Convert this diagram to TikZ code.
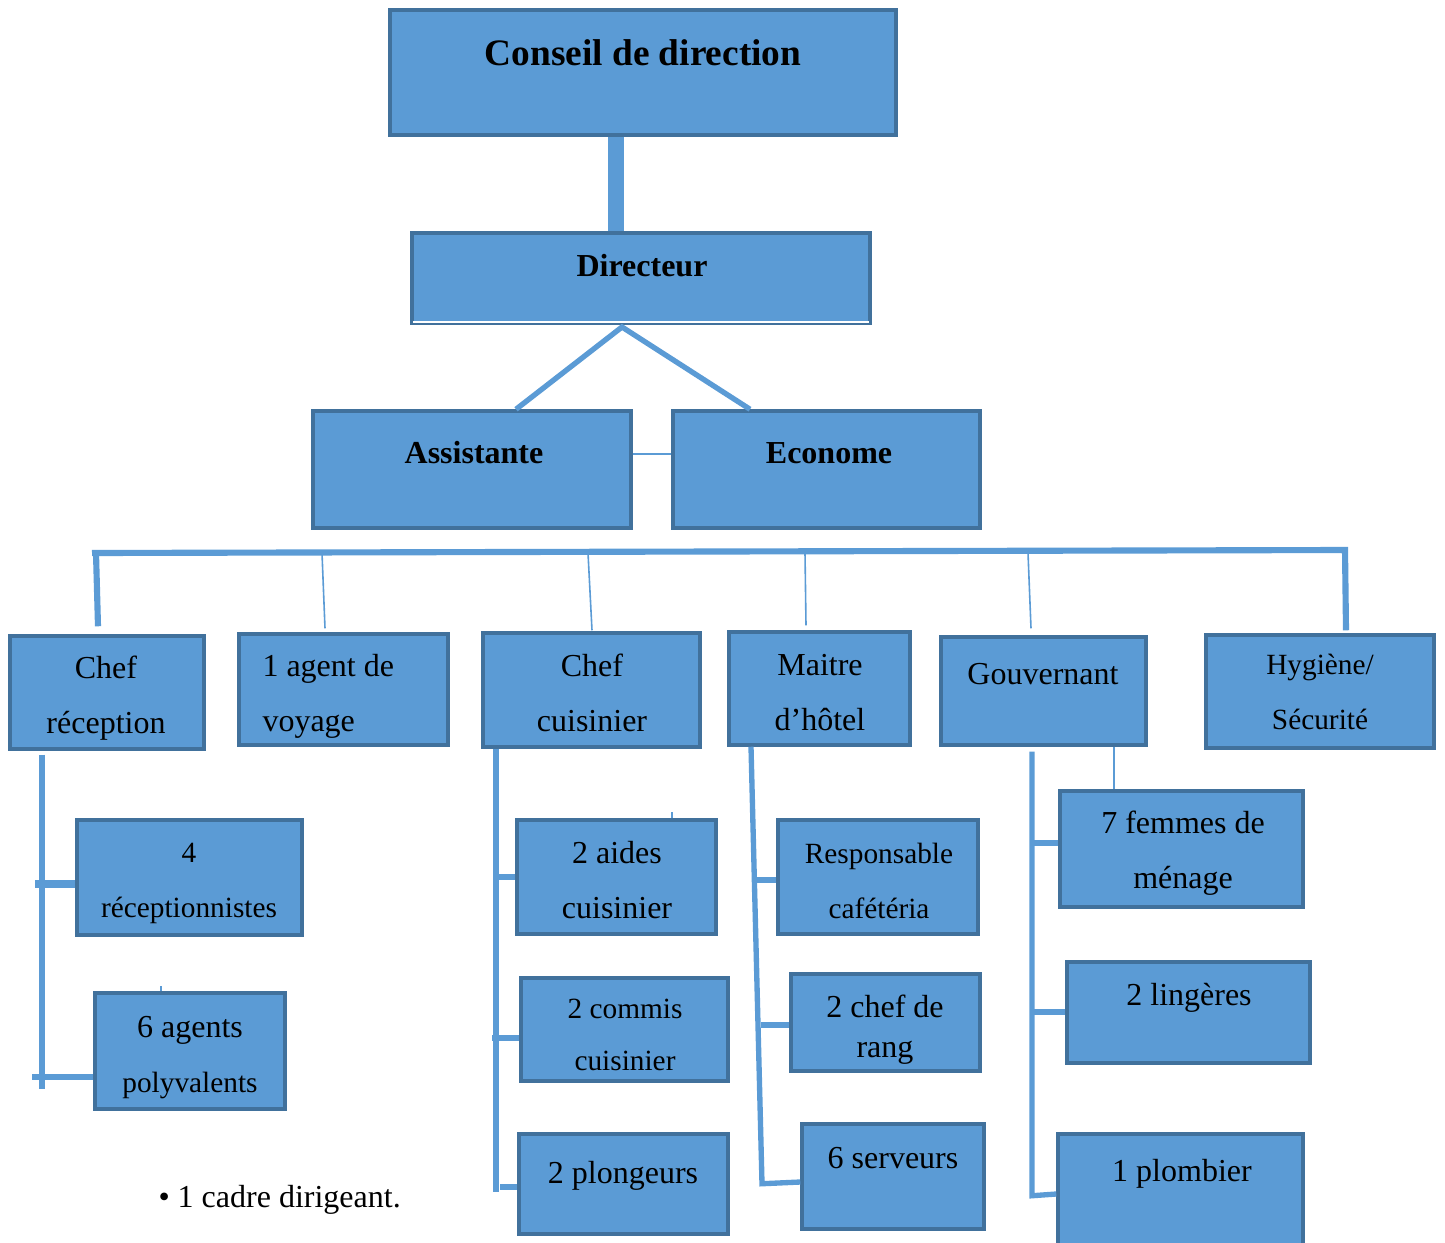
\documentclass[tikz,border=0pt]{standalone}
\usepackage{fontspec}
\setmainfont{Liberation Serif}
\usetikzlibrary{fit,calc}
\definecolor{boxfill}{HTML}{5B9BD5}
\definecolor{boxline}{HTML}{41719C}

\begin{document}
\begin{tikzpicture}[x=0.375pt, y=-0.375pt,
  box/.style = {draw=boxline, fill=boxfill, line width=1.3pt, inner sep=0pt},
  txt/.style = {align=center, anchor=base, inner sep=0pt, font=\fontsize{12}{20.5}\selectfont},
  sml/.style = {font=\fontsize{11}{20.6}\selectfont},
  bold/.style = {font=\fontsize{12}{14}\selectfont\bfseries},
  link/.style = {draw=boxfill, line width=2pt},
  thin/.style = {draw=boxfill, line width=0.6pt}]
\useasboundingbox (0,0) rectangle (1445,1242);

% top of the chart
\node[box, fit={(390,10) (896,135)}] (conseil) {};
\node[box, fit={(412,233) (870,323)}] (dir) {};
\node[box, fit={(313,411) (631,528)}] (assist) {};
\node[box, fit={(673,411) (980,528)}] (econ) {};

% services
\node[box, fit={(10,636) (204,749)}] (chefrec) {};
\node[box, fit={(239,634) (448,745)}] (agent) {};
\node[box, fit={(483,633) (700,747)}] (chefcuis) {};
\node[box, fit={(729,632) (910,745)}] (maitre) {};
\node[box, fit={(941,637) (1146,745)}] (gouv) {};
\node[box, fit={(1206,635) (1434,748)}] (hyg) {};

% staff
\node[box, fit={(77,820) (302,935)}] (recep) {};
\node[box, fit={(95,993) (285,1109)}] (polyv) {};
\node[box, fit={(517,820) (716,934)}] (aides) {};
\node[box, fit={(521,978) (728,1081)}] (commis) {};
\node[box, fit={(519,1134) (728,1234)}] (plong) {};
\node[box, fit={(778,820) (978,934)}] (cafet) {};
\node[box, fit={(791,974) (980,1071)}] (rang) {};
\node[box, fit={(802,1124) (984,1229)}] (serv) {};
\node[box, fit={(1060,791) (1303,907)}] (femmes) {};
\node[box, fit={(1067,962) (1310,1063)}] (linge) {};
\node[box, fit={(1058,1134) (1303,1262)}] (plomb) {};

% texts (multi-line nodes sit on their last line)
\node[txt, font=\fontsize{14}{17}\selectfont\bfseries] (t-conseil) at (643,65) {Conseil de direction};
\node[txt, bold] (t-dir) at (642,276) {Directeur};
\node[txt, bold] (t-assist) at (474,463) {Assistante};
\node[txt, bold] (t-econ) at (829,463) {Econome};
\node[txt] (t-chefrec) at (106,733) {Chef\\réception};
\node[txt, anchor=base west, align=left] (t-agent) at (262,731) {1 agent de\\voyage};
\node[txt] (t-chefcuis) at (592,731) {Chef\\cuisinier};
\node[txt] (t-maitre) at (820,730) {Maitre\\d’hôtel};
\node[txt] (t-gouv) at (1043,684) {Gouvernant};
\node[txt, sml] (t-hyg) at (1320,729) {Hygiène/\\Sécurité};
\node[txt, sml] (t-recep) at (189,917) {4\\réceptionnistes};
\node[txt] (t-polyv) at (190,1092) {6 agents\\{\fontsize{11}{13}\selectfont polyvalents}};
\node[txt] (t-aides) at (617,918) {2 aides\\cuisinier};
\node[txt, font=\fontsize{11}{19.5}\selectfont] (t-commis) at (625,1070) {2 commis\\cuisinier};
\node[txt] (t-plong) at (623,1183) {2 plongeurs};
\node[txt, sml] (t-cafet) at (879,918) {Responsable\\cafétéria};
\node[txt, font=\fontsize{12}{15}\selectfont] (t-rang) at (885,1057) {2 chef de\\rang};
\node[txt] (t-serv) at (893,1168) {6 serveurs};
\node[txt] (t-femmes) at (1183,888) {7 femmes de\\ménage};
\node[txt] (t-linge) at (1189,1005) {2 lingères};
\node[txt] (t-plomb) at (1182,1181) {1 plombier};
\node[txt, anchor=base west] (note) at (158,1207) {\textbullet\ 1 cadre dirigeant.};

% links at the top
\coordinate (apex) at (622,327);
\coordinate (busL) at (92,553);
\coordinate (busR) at (1345,550);
\draw[link, line width=6pt] (conseil.south -| 616,0) -- (dir.north -| 616,0);
\draw[white, line width=0.6pt] ($(dir.south west)+(3,-3)$) -- ($(dir.south east)+(-3,-3)$);
\draw[link] (assist.north -| 516,0) -- (apex) -- (econ.north -| 750,0);
\draw[thin] (assist.east |- 0,454) -- (econ.west |- 0,454);

% bus and drops
\draw[link, line width=2.3pt] (busL) -- (busR) -- ($(hyg.north -| 1346,0)+(0,-3)$);
\draw[link, line width=2.3pt] (busL -| 96,0) -- ($(chefrec.north -| 98,0)+(0,-8)$);
\draw[thin] (busL -| 322,0) -- ($(agent.north -| 325,0)+(0,-4)$);
\draw[thin] (busL -| 588,0) -- ($(chefcuis.north -| 592,0)+(0,-1)$);
\draw[thin] (busL -| 805,0) -- ($(maitre.north -| 806,0)+(0,-5)$);
\draw[thin] (busL -| 1028,0) -- ($(gouv.north -| 1031,0)+(0,-7)$);

% reception
\draw[link] ($(chefrec.south -| 42,0)+(0,4)$) -- +(0,334);
\draw[link, line width=3pt] (recep.west |- 0,884) -- +(-40,0);
\draw[link] (polyv.west |- 0,1077) -- +(-61,0);
\draw[thin] (polyv.north -| 161,0) -- +(0,-5);

% kitchen
\draw[link] (chefcuis.south -| 496,0) -- +(0,443);
\draw[link] (aides.west |- 0,877) -- +(-17,0);
\draw[link] (commis.west |- 0,1038) -- +(-27,0);
\draw[link] (plong.west |- 0,1187) -- +(-17,0);
\draw[thin] (aides.north -| 672,0) -- +(0,-6);

% restaurant
\draw[link] (maitre.south -| 751,0) -- ++(11,437) -- (serv.west |- 0,1182);
\draw[link, line width=2.3pt] (cafet.west |- 0,880) -- +(-22,0);
\draw[link] (rang.west |- 0,1025) -- +(-28,0);

% housekeeping
\draw[link] ($(gouv.south -| 1032,0)+(0,5)$) -- ++(0,444) -- (plomb.west |- 0,1194);
\draw[link, line width=2.6pt] (femmes.west |- 0,843) -- +(-26,0);
\draw[link] (linge.west |- 0,1012) -- +(-33,0);
\draw[thin] (gouv.south -| 1114,0) -- (femmes.north -| 1114,0);
\end{tikzpicture}
\end{document}
